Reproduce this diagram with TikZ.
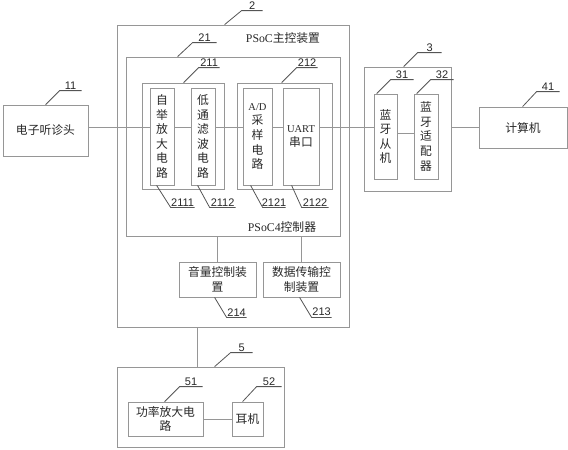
\documentclass[tikz,border=0pt]{standalone}
\usepackage{fontspec}
\newfontfamily\cjk{Noto Sans CJK SC}
\newfontfamily\latf{Liberation Serif}
\newfontfamily\numf{Liberation Sans}
\definecolor{boxc}{RGB}{150,150,150}
\definecolor{leadc}{RGB}{85,85,85}
\definecolor{txtc}{RGB}{40,40,40}
\begin{document}
\begin{tikzpicture}[x=1pt,y=-1pt,
  box/.style={draw=boxc, line width=0.8pt, inner sep=0pt, text=txtc, align=center,
    font=\cjk\fontsize{11.8}{14.6}\selectfont},
  link/.style={draw=boxc, line width=0.8pt},
  lead/.style={draw=leadc, line width=0.8pt},
  num/.style={font=\numf\fontsize{11}{12}\selectfont, text=txtc, inner sep=1pt, above},
  plain/.style={text=txtc, inner sep=0pt, font=\cjk\fontsize{11.8}{14}\selectfont}]
\useasboundingbox (0,0) rectangle (568,450);
% containers
\node[box, minimum width=232, minimum height=302] (n2) at (233,176) {};
\node[box, minimum width=214, minimum height=179] (n21) at (233,146.5) {};
\node[box, minimum width=82, minimum height=106] (n211) at (183,136) {};
\node[box, minimum width=95, minimum height=106] (n212) at (284.5,136) {};
\node[box, minimum width=87, minimum height=124] (n3) at (407.5,129) {};
\node[box, minimum width=167, minimum height=80] (n5) at (200.5,407) {};
% inner boxes
\node[box, minimum width=85, minimum height=51] (n11) at (45.5,130.5) {电子听诊头};
\node[box, minimum width=24, minimum height=97] (n2111) at (162,136.5) {自\\举\\放\\大\\电\\路};
\node[box, minimum width=24, minimum height=97] (n2112) at (203,136.5) {低\\通\\滤\\波\\电\\路};
\node[box, minimum width=29, minimum height=97] (n2121) at (257.5,136.5) {{\latf\fontsize{10.5}{14.6}\selectfont A/D}\\采\\样\\电\\路};
\node[box, minimum width=36, minimum height=97] (n2122) at (301,136.5) {{\latf\fontsize{10.5}{14.6}\selectfont UART}\\串口};
\node[box, minimum width=23, minimum height=85] (n31) at (385.5,136.5) {蓝\\牙\\从\\机};
\node[box, minimum width=24, minimum height=85] (n32) at (426,136.5) {蓝\\牙\\适\\配\\器};
\node[box, minimum width=88, minimum height=41] (n41) at (523,127.5) {计算机};
\node[box, minimum width=77, minimum height=35] (n214) at (217.5,279.5) {音量控制装\\置};
\node[box, minimum width=77, minimum height=35] (n213) at (301.5,279.5) {数据传输控\\制装置};
\node[box, minimum width=75, minimum height=34] (n51) at (165.5,419) {功率放大电\\路};
\node[box, minimum width=31, minimum height=34] (n52) at (247.5,419) {耳机};
% titles
\node[plain] (t2) at (283,38) {{\latf PSoC}主控装置};
\node[plain] (t21) at (282,227) {{\latf PSoC4}控制器};
% connectors
\coordinate (my) at (0,127);
\coordinate (by) at (0,133);
\coordinate (vx) at (197,0);
\draw[link] (n11.east |- my) -- (n2111.west |- my);
\draw[link] (n2111.east |- my) -- (n2112.west |- my);
\draw[link] (n2112.east |- my) -- (n2121.west |- my);
\draw[link] (n2121.east |- my) -- (n2122.west |- my);
\draw[link] (n2122.east |- my) -- (n31.west |- my);
\draw[link] (n31.east |- by) -- (n32.west |- by);
\draw[link] (n3.east |- n41.west) -- (n41.west);
\draw[link] (n214.north) -- (n214.north |- n21.south);
\draw[link] (n213.north) -- (n213.north |- n21.south);
\draw[link] (n2.south -| vx) -- (n5.north -| vx);
\draw[link] (n51) -- (n52);
% leaders
\draw[lead] ([xshift=108]n2.north west) -- ++(17,-14) -- ++(21,0) node[num, midway] {2};
\draw[lead] ([xshift=52]n21.north west) -- ++(15,-14) -- ++(24,0) node[num, midway] {21};
\draw[lead] ([xshift=42]n211.north west) -- ++(15,-15) -- ++(21,0) node[num, midway] {211};
\draw[lead] ([xshift=45]n212.north west) -- ++(15,-15) -- ++(21,0) node[num, midway] {212};
\draw[lead] ([xshift=7]n2111.south west) -- ++(14,22) -- ++(24,0) node[num, midway] {2111};
\draw[lead] ([xshift=7]n2112.south west) -- ++(12,22) -- ++(26,0) node[num, midway] {2112};
\draw[lead] ([xshift=8]n2121.south west) -- ++(12,22) -- ++(23,0) node[num, midway] {2121};
\draw[lead] ([xshift=9]n2122.south west) -- ++(10,22) -- ++(27,0) node[num, midway] {2122};
\draw[lead] ([xshift=36]n214.south west) -- ++(12,20) -- ++(20,0) node[num, midway] {214};
\draw[lead] ([xshift=37]n213.south west) -- ++(12,20) -- ++(20,0) node[num, midway] {213};
\draw[lead] ([xshift=40]n3.north west) -- ++(14,-14) -- ++(24,0) node[num, midway] {3};
\draw[lead] ([xshift=3]n31.north west) -- ++(14,-14) -- ++(23,0) node[num, midway] {31};
\draw[lead] ([xshift=3]n32.north west) -- ++(14,-14) -- ++(23,0) node[num, midway] {32};
\draw[lead] ([xshift=44]n41.north west) -- ++(14,-15) -- ++(23,0) node[num, midway] {41};
\draw[lead] ([xshift=43]n11.north west) -- ++(14,-14) -- ++(22,0) node[num, midway] {11};
\draw[lead] ([xshift=98]n5.north west) -- ++(16,-14) -- ++(22,0) node[num, midway] {5};
\draw[lead] ([xshift=37]n51.north west) -- ++(15,-15) -- ++(23,0) node[num, midway] {51};
\draw[lead] ([xshift=11]n52.north west) -- ++(14,-15) -- ++(25,0) node[num, midway] {52};
\end{tikzpicture}
\end{document}
